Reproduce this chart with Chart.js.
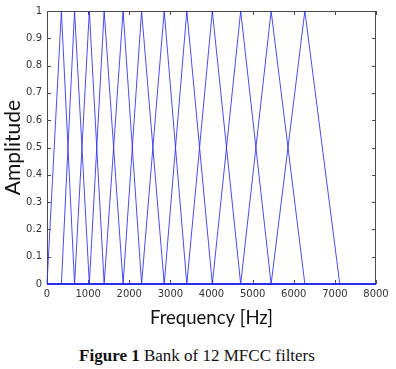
<!DOCTYPE html>
<html>
<head>
<meta charset="utf-8">
<script src="https://cdn.jsdelivr.net/npm/chart.js@4/dist/chart.umd.min.js"></script>
<style>
    html, body { margin: 0; padding: 0; background: #fff; }
    #wrap { position: relative; width: 396px; height: 369px; }
    #chart { position: absolute; left: 0; top: 0; }
    #caption {
        position: absolute; left: 0; top: 346px; width: 394px;
        text-align: center; font-family: "Liberation Serif", serif;
        font-size: 17px; line-height: 20px; color: #111;
    }
</style>
</head>
<body>
<div id="wrap">
    <canvas id="chart" width="396" height="335"></canvas>
    <div id="caption"><b>Figure 1</b> Bank of 12 MFCC filters</div>
</div>
<script>
// filter band edges in Hz (filter i rises from edge i, peaks at edge i+1, falls to edge i+2)
const freqRange = [0, 8000];
const filterEdges = [0, 350, 670, 1030, 1390, 1850, 2300, 2850, 3400, 4020, 4710, 5450, 6270, 7120];
const peakAmplitude = 1;
const xTickLabels = ['0', '1000', '2000', '3000', '4000', '5000', '6000', '7000', '8000'];
const yTickLabels = ['0', '0.1', '0.2', '0.3', '0.4', '0.5', '0.6', '0.7', '0.8', '0.9', '1'];

const lineColor = 'rgba(45, 45, 235, 0.85)';
const frameColor = '#4a4a4a';

function buildDatasets() {
    const sets = [];
    for (let i = 0; i + 2 < filterEdges.length; i++) {
        sets.push({
            data: [
                { x: freqRange[0], y: 0 },
                { x: filterEdges[i], y: 0 },
                { x: filterEdges[i + 1], y: peakAmplitude },
                { x: filterEdges[i + 2], y: 0 },
                { x: freqRange[1], y: 0 }
            ],
            showLine: true,
            borderColor: lineColor,
            borderWidth: 1,
            pointRadius: 0,
            tension: 0,
            clip: 2
        });
    }
    return sets;
}

// matplotlib style box with inward ticks on all sides
const framePlugin = {
    id: 'frame',
    beforeDatasetsDraw: chart => {
        const ctx = chart.ctx;
        const a = chart.chartArea;
        const xs = chart.scales.x;
        const ys = chart.scales.y;
        const len = 4;
        ctx.save();
        ctx.strokeStyle = frameColor;
        ctx.lineWidth = 1;
        ctx.strokeRect(a.left + 0.5, a.top + 0.5, a.right - a.left - 1, a.bottom - a.top);
        ctx.beginPath();
        xs.ticks.forEach(t => {
            const px = Math.round(xs.getPixelForValue(t.value)) + 0.5;
            ctx.moveTo(px, a.bottom); ctx.lineTo(px, a.bottom - len);
            ctx.moveTo(px, a.top); ctx.lineTo(px, a.top + len);
        });
        ys.ticks.forEach(t => {
            const py = Math.round(ys.getPixelForValue(t.value)) + 0.5;
            ctx.moveTo(a.left, py); ctx.lineTo(a.left + len, py);
            ctx.moveTo(a.right, py); ctx.lineTo(a.right - len, py);
        });
        ctx.stroke();
        ctx.restore();
    }
};

new Chart(document.getElementById('chart'), {
    type: 'scatter',
    data: { datasets: buildDatasets() },
    options: {
        responsive: false,
        animation: false,
        devicePixelRatio: 1,
        layout: { padding: { left: 0, right: 20, top: 11, bottom: 6 } },
        plugins: {
            legend: { display: false },
            tooltip: { enabled: false }
        },
        scales: {
            x: {
                type: 'linear',
                min: freqRange[0],
                max: freqRange[1],
                grid: { display: false, drawTicks: false },
                border: { display: false },
                ticks: {
                    stepSize: 1000,
                    padding: 4,
                    maxRotation: 0,
                    color: '#333',
                    font: { family: 'DejaVu Sans', size: 10 },
                    callback: (v, i) => xTickLabels[i]
                },
                title: {
                    display: true,
                    text: 'Frequency [Hz]',
                    color: '#111',
                    padding: 0,
                    font: { family: 'Lato', size: 18.5 }
                },
                afterFit: scale => { scale.height = 45; }
            },
            y: {
                type: 'linear',
                min: 0,
                max: 1,
                grid: { display: false, drawTicks: false },
                border: { display: false },
                ticks: {
                    stepSize: 0.1,
                    padding: 5,
                    color: '#333',
                    font: { family: 'DejaVu Sans', size: 10 },
                    callback: (v, i) => yTickLabels[i]
                },
                title: {
                    display: true,
                    text: 'Amplitude',
                    color: '#111',
                    padding: { top: 1, bottom: 0 },
                    font: { family: 'Lato', size: 21 }
                },
                afterFit: scale => { scale.width = 47; }
            }
        }
    },
    plugins: [framePlugin]
});
</script>
</body>
</html>
